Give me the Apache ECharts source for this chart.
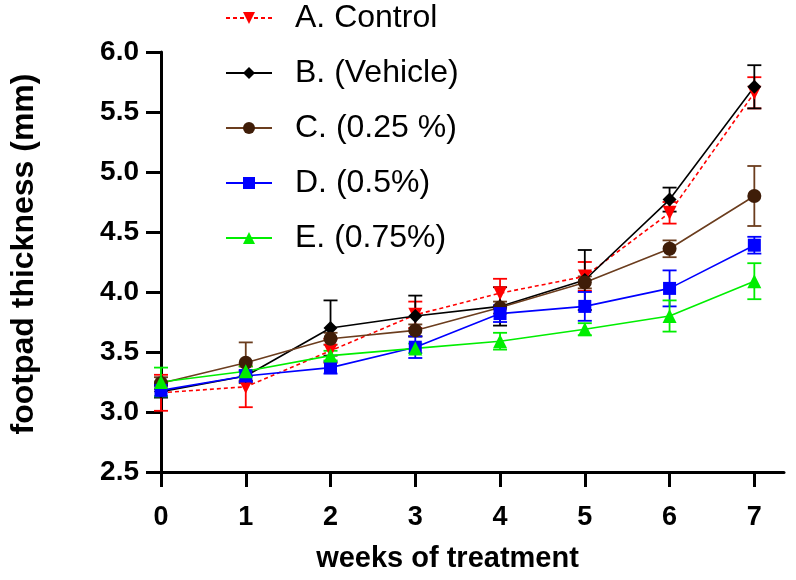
<!DOCTYPE html>
<html>
<head>
<meta charset="utf-8">
<script src="https://cdn.jsdelivr.net/npm/echarts@6/dist/echarts.min.js"></script>
<style>html,body{margin:0;padding:0;background:#fff}#c{width:796px;height:580px}</style>
</head>
<body>
<div id="c"></div>
<script>
const weeks = [0, 1, 2, 3, 4, 5, 6, 7];
const seriesNames = ['A. Control', 'B. (Vehicle)', 'C. (0.25 %)', 'D. (0.5%)', 'E. (0.75%)'];
const controlA = [3.16, 3.21, 3.51, 3.81, 3.99, 4.13, 4.66, 5.66];
const vehicleB = [3.17, 3.30, 3.70, 3.80, 3.88, 4.10, 4.77, 5.71];
const dose025C = [3.24, 3.41, 3.61, 3.68, 3.87, 4.08, 4.36, 4.80];
const dose05D  = [3.18, 3.30, 3.37, 3.54, 3.82, 3.88, 4.03, 4.39];
const dose075E = [3.25, 3.34, 3.47, 3.53, 3.59, 3.69, 3.80, 4.09];
const sdA = [0.15, 0.17, 0.10, 0.11, 0.12, 0.12, 0.09, 0.13];
const sdB = [0.05, 0.04, 0.23, 0.17, 0.16, 0.25, 0.10, 0.18];
const sdC = [0.05, 0.17, 0.05, 0.05, 0.05, 0.05, 0.07, 0.25];
const sdD = [0.05, 0.05, 0.05, 0.09, 0.07, 0.12, 0.15, 0.07];
const sdE = [0.12, 0.04, 0.04, 0.04, 0.07, 0.05, 0.13, 0.15];
const yTicks = [2.5, 3.0, 3.5, 4.0, 4.5, 5.0, 5.5, 6.0];

const styles = [
  {color: '#ff0000', line: '#ff0000', symbol: 'triangle', rotate: 180, size: 14, dash: [4, 3], width: 1.6},
  {color: '#000000', line: '#000000', symbol: 'diamond', rotate: 0, size: 14, dash: 'solid', width: 1.6},
  {color: '#3f1d08', line: '#6b3d1e', symbol: 'circle', rotate: 0, size: 14, dash: 'solid', width: 1.6},
  {color: '#0000ff', line: '#0000ff', symbol: 'rect', rotate: 0, size: 13, dash: 'solid', width: 1.6},
  {color: '#00ee00', line: '#00ee00', symbol: 'triangle', rotate: 0, size: 14, dash: 'solid', width: 1.6}
];
const means = [controlA, vehicleB, dose025C, dose05D, dose075E];
const sds = [sdA, sdB, sdC, sdD, sdE];

const series = [];
means.forEach((m, i) => {
  const st = styles[i];
  series.push({
    type: 'custom',
    name: seriesNames[i] + '_err',
    z: 2,
    silent: true,
    renderItem: function (params, api) {
      const x = api.value(0), y = api.value(1), e = api.value(2);
      const top = api.coord([x, y + e]);
      const bot = api.coord([x, y - e]);
      const hw = 7;
      const ls = {stroke: st.line, lineWidth: 1.8};
      return {type: 'group', children: [
        {type: 'line', shape: {x1: top[0], y1: top[1], x2: bot[0], y2: bot[1]}, style: ls},
        {type: 'line', shape: {x1: top[0] - hw, y1: top[1], x2: top[0] + hw, y2: top[1]}, style: ls},
        {type: 'line', shape: {x1: bot[0] - hw, y1: bot[1], x2: bot[0] + hw, y2: bot[1]}, style: ls}
      ]};
    },
    data: weeks.map((w, k) => [w, m[k], sds[i][k]])
  });
  series.push({
    type: 'line',
    name: seriesNames[i],
    z: 3,
    data: weeks.map((w, k) => [w, m[k]]),
    symbol: st.symbol,
    symbolRotate: st.rotate,
    symbolSize: st.size,
    showAllSymbol: true,
    itemStyle: {color: st.color, borderWidth: 0},
    lineStyle: {color: st.line, width: st.width, type: st.dash},
    emphasis: {disabled: true},
    animation: false
  });
});

const chart = echarts.init(document.getElementById('c'), null, {renderer: 'canvas'});
chart.setOption({
  animation: false,
  backgroundColor: '#ffffff',
  grid: {left: 159, right: 12, top: 52, bottom: 108, containLabel: false},
  legend: {
    orient: 'vertical',
    left: 220,
    top: -3,
    data: seriesNames,
    itemWidth: 46,
    itemHeight: 15,
    itemGap: 23,
    selectedMode: false,
    textStyle: {fontFamily: 'Liberation Sans, Arial, sans-serif', fontSize: 32, color: '#000', padding: [0, 0, 0, 18], lineHeight: 32}
  },
  xAxis: {
    type: 'value',
    min: 0,
    max: 7.35,
    interval: 1,
    name: 'weeks of treatment',
    nameLocation: 'middle',
    nameGap: 72,
    nameTextStyle: {fontFamily: 'Liberation Sans Narrow, Liberation Sans, Arial, sans-serif', fontWeight: 'bold', fontSize: 29, color: '#000', padding: [0, 50, 0, 0]},
    axisLine: {show: true, onZero: false, lineStyle: {color: '#000', width: 3}},
    axisTick: {show: true, length: 15, lineStyle: {color: '#000', width: 3}, customValues: weeks},
    axisLabel: {customValues: weeks, margin: 32, fontFamily: 'Liberation Sans Narrow, Liberation Sans, Arial, sans-serif', fontWeight: 'bold', fontSize: 27, color: '#000'},
    splitLine: {show: false}
  },
  yAxis: {
    type: 'value',
    min: 2.5,
    max: 6.0,
    interval: 0.5,
    name: 'footpad thickness (mm)',
    nameLocation: 'middle',
    nameGap: 121,
    nameTextStyle: {fontFamily: 'Liberation Sans, Arial, sans-serif', fontWeight: 'bold', fontSize: 32, color: '#000', padding: [0, 0, 0, 16]},
    axisLine: {show: true, lineStyle: {color: '#000', width: 3}},
    axisTick: {show: true, length: 15, lineStyle: {color: '#000', width: 3}},
    axisLabel: {margin: 22, formatter: v => v.toFixed(1), fontFamily: 'Liberation Sans, Arial, sans-serif', fontWeight: 'bold', fontSize: 28, color: '#000'},
    splitLine: {show: false}
  },
  series: series
});
</script>
</body>
</html>
